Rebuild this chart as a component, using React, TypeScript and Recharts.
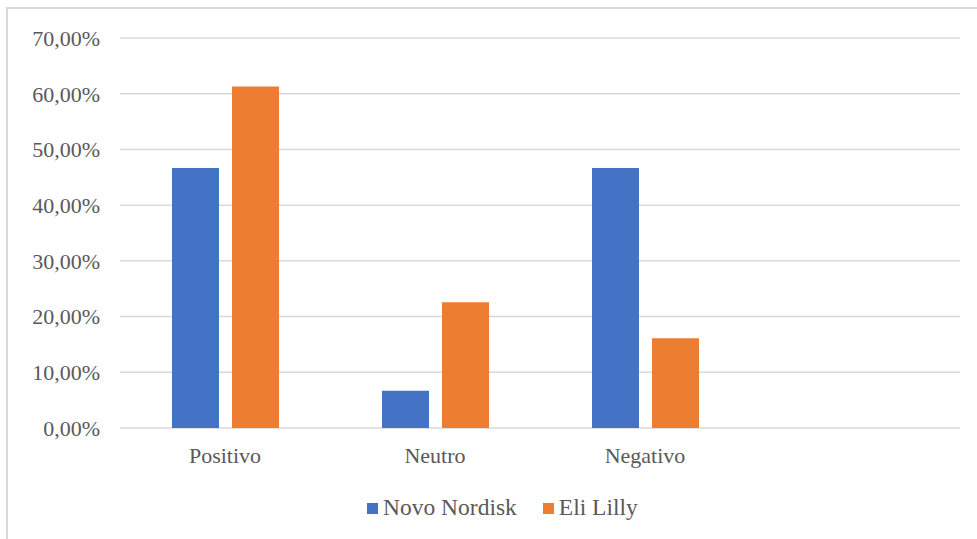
import React from 'react';
import { BarChart, Bar, XAxis, YAxis, CartesianGrid, Legend } from 'recharts';

const categories = ['Positivo', 'Neutro', 'Negativo', ''];
const novoNordisk = [46.67, 6.67, 46.67, null];
const eliLilly = [61.29, 22.58, 16.13, null];
const seriesNames = ['Novo Nordisk', 'Eli Lilly'];
const seriesColors = ['#4472C4', '#ED7D31'];
const yTicks = [0, 10, 20, 30, 40, 50, 60, 70];

const data = categories.map((c, i) => ({ cat: c, nn: novoNordisk[i], el: eliLilly[i] }));

const FONT = "'Liberation Serif', 'DejaVu Serif', serif";
const TEXT = '#595959';
const GRID = '#d9d9d9';

const fmt = (v: number) => v.toFixed(2).replace('.', ',') + '%';

const renderLegend = () => {
  return (
    <div style={{ display: 'flex', alignItems: 'center', paddingLeft: 367, height: 30, fontFamily: FONT }}>
      {seriesNames.map((name, i) => (
        <div key={i} style={{ display: 'flex', alignItems: 'center', marginRight: 26 }}>
          <div style={{ width: 11, height: 11, background: seriesColors[i], marginRight: 5 }} />
          <span style={{ fontSize: 23.5, color: TEXT, lineHeight: 1, fontFamily: FONT }}>{name}</span>
        </div>
      ))}
    </div>
  );
};

export default function App() {
  return (
    <div style={{ position: 'absolute', left: 0, top: 0, width: 977, height: 539, background: '#fff', overflow: 'hidden', fontFamily: FONT }}>
      <div style={{ position: 'absolute', left: 6, top: 7, width: 1000, height: 600, borderLeft: `2px solid ${GRID}`, borderTop: `2px solid ${GRID}` }} />
      <div style={{ position: 'absolute', left: 0, top: 0 }}>
        <BarChart
          width={977}
          height={539}
          data={data}
          margin={{ top: 38, right: 17, left: 20, bottom: 35 }}
          barSize={47}
          barGap={13}
          style={{ fontFamily: FONT }}
        >
          <CartesianGrid vertical={false} stroke={GRID} strokeWidth={1.5} />
          <XAxis
            dataKey="cat"
            axisLine={false}
            tickLine={false}
            height={46}
            tickMargin={13}
            interval={0}
            tick={{ fontSize: 22, fill: TEXT, fontFamily: FONT }}
          />
          <YAxis
            width={100}
            domain={[0, 70]}
            ticks={yTicks}
            axisLine={false}
            tickLine={false}
            tickMargin={14}
            tickFormatter={fmt}
            tick={{ fontSize: 22, fill: TEXT, fontFamily: FONT }}
          />
          <Legend
            verticalAlign="bottom"
            content={renderLegend}
            wrapperStyle={{ left: 0, width: 977, top: 493, height: 30 }}
          />
          <Bar dataKey="nn" name={seriesNames[0]} fill={seriesColors[0]} isAnimationActive={false} />
          <Bar dataKey="el" name={seriesNames[1]} fill={seriesColors[1]} isAnimationActive={false} />
        </BarChart>
      </div>
    </div>
  );
}
